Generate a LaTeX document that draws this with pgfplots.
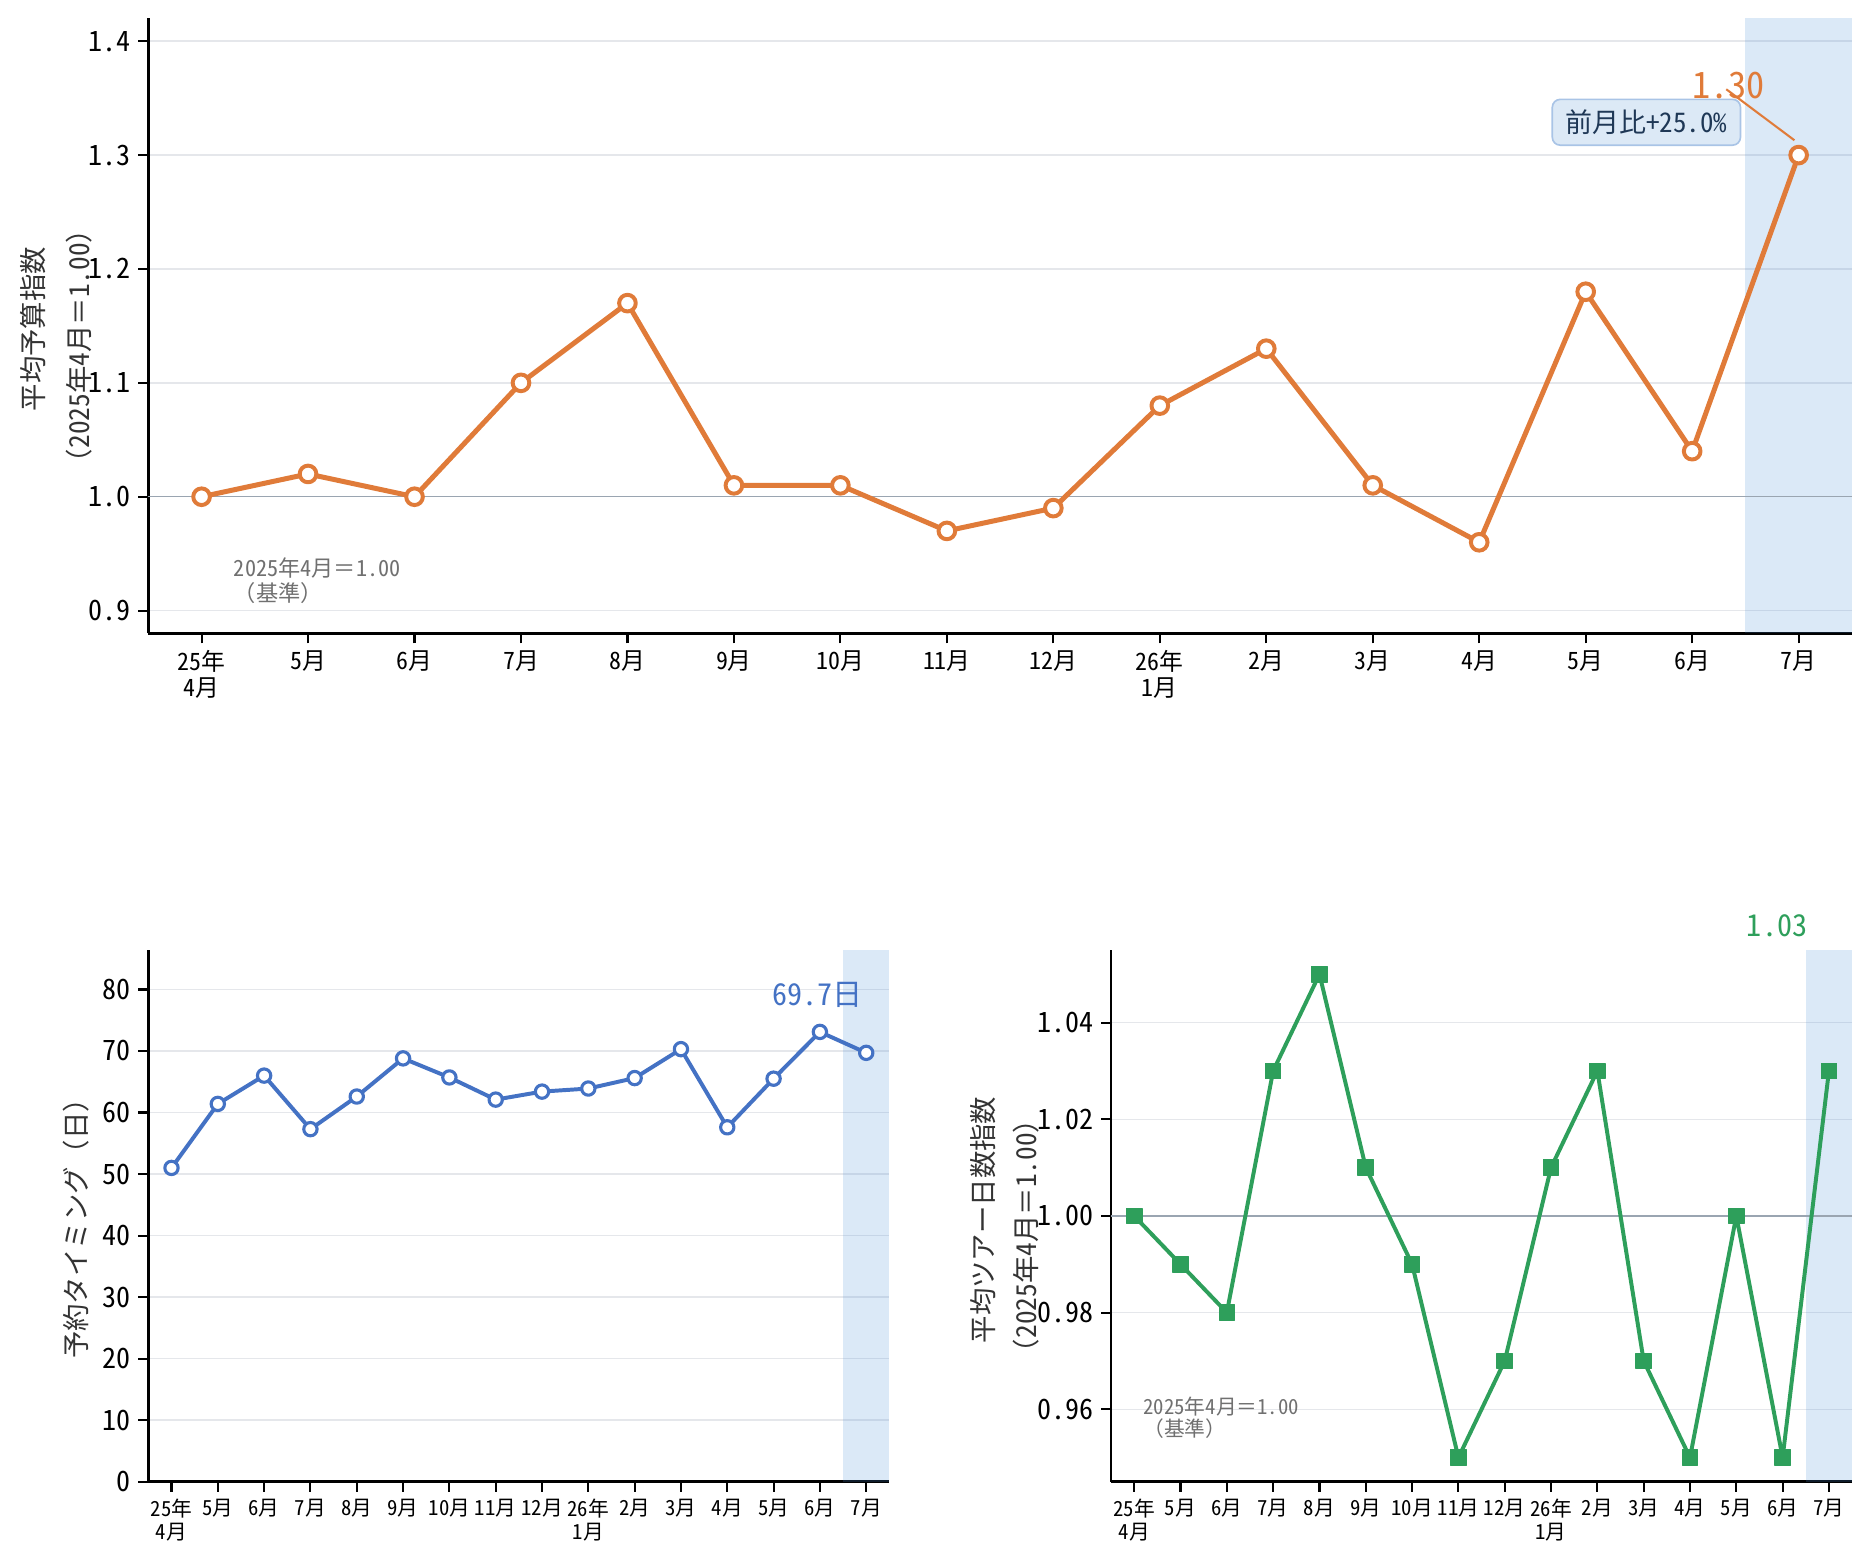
\documentclass[border=0pt]{standalone}
\usepackage{fontspec}
\setmainfont{Noto Sans Mono CJK JP}
\usepackage{pgfplots}
\pgfplotsset{compat=1.18}
\definecolor{orangec}{HTML}{E07B39}
\definecolor{bluec}{HTML}{4472C4}
\definecolor{greenc}{HTML}{2E9F5B}
\definecolor{shadec}{HTML}{4A90D9}
\definecolor{gridc}{HTML}{E5E7EB}
\definecolor{refc}{HTML}{9AA5B1}
\definecolor{graytext}{HTML}{707070}
\definecolor{labelc}{HTML}{333333}
\definecolor{boxfill}{HTML}{DCE9F6}
\definecolor{boxborder}{HTML}{A9C4E6}
\definecolor{navy}{HTML}{1F3856}
\pgfplotsset{
  base/.style={
    scale only axis, anchor=south west, clip=false,
    axis lines=left, axis line style={-, line width=1.3bp, black},
    tick align=outside, major tick length=4.8bp,
    tick style={black, line width=1bp},
    xmin=-0.5, xmax=15.5, xtick={0,...,15},
    ymajorgrids, grid style={color=gridc, line width=0.7bp},
    xticklabels={{25年\\4月},5月,6月,7月,8月,9月,10月,11月,12月,{26年\\1月},2月,3月,4月,5月,6月,7月},
    xticklabel style={align=center, text=black},
    yticklabel style={text=black},
  }
}
\begin{document}
\begin{tikzpicture}
\useasboundingbox (0,0) rectangle (898.56bp,750.24bp);
% ---------------- top axis
\begin{axis}[base, at={(71.2bp,446.2bp)}, width=817.7bp, height=295.2bp,
  ymin=0.88, ymax=1.42,
  ytick={0.9,1.0,1.1,1.2,1.3,1.4}, yticklabels={0.9,1.0,1.1,1.2,1.3,1.4},
  yticklabel style={font=\fontsize{13.5}{15}\selectfont},
  xticklabel style={font=\fontsize{11.5}{12.5}\selectfont},
]
\addplot[draw=none, fill=shadec, fill opacity=0.2, forget plot] coordinates {(14.5,0.88) (15.5,0.88) (15.5,1.42) (14.5,1.42)} -- cycle;
\addplot[refc, line width=0.6bp, forget plot] coordinates {(-0.5,1) (15.5,1)};
\addplot[orangec, line width=2.4bp, line join=round, mark=*, mark size=4.0bp,
  mark options={fill=white, draw=orangec, line width=1.9bp}] coordinates {
(0,1.00) (1,1.02) (2,1.00) (3,1.10) (4,1.17) (5,1.01) (6,1.01) (7,0.97)
(8,0.99) (9,1.08) (10,1.13) (11,1.01) (12,0.96) (13,1.18) (14,1.04) (15,1.30)};
\node[text=orangec, font=\fontsize{17.5}{20}\selectfont] at (axis cs:14.34,1.3613) {1.30};
\draw[orangec, line width=1bp] (axis cs:14.32,1.3578) -- (axis cs:14.96,1.3130);
\node[draw=boxborder, fill=boxfill, rounded corners=3.8bp, line width=0.8bp,
  inner xsep=6.3bp, inner ysep=5bp, text=navy, font=\fontsize{13}{15}\selectfont]
  at (axis cs:13.57,1.3288) {前月比+25.0\%};
\node[text=graytext, font=\fontsize{10.7}{12}\selectfont, anchor=west, align=left, inner sep=0pt]
  at (axis cs:0.30,0.9265) {2025年4月＝1.00\\（基準）};
\end{axis}
% ---------------- bottom left
\begin{axis}[base, at={(71.2bp,39.0bp)}, width=355.7bp, height=255.2bp,
  ymin=0, ymax=86.4,
  ytick={0,10,20,30,40,50,60,70,80}, yticklabels={0,10,20,30,40,50,60,70,80},
  yticklabel style={font=\fontsize{13.5}{15}\selectfont},
  xticklabel style={font=\fontsize{10}{11}\selectfont},
]
\addplot[draw=none, fill=shadec, fill opacity=0.2, forget plot] coordinates {(14.5,0) (15.5,0) (15.5,86.4) (14.5,86.4)} -- cycle;
\addplot[bluec, line width=1.9bp, line join=round, mark=*, mark size=3.2bp,
  mark options={fill=white, draw=bluec, line width=1.5bp}] coordinates {
(0,51.0) (1,61.4) (2,66.0) (3,57.3) (4,62.6) (5,68.8) (6,65.7) (7,62.1)
(8,63.4) (9,63.9) (10,65.6) (11,70.3) (12,57.6) (13,65.5) (14,73.1) (15,69.7)};
\node[text=bluec, font=\fontsize{14.5}{17}\selectfont] at (axis cs:13.95,79.07) {69.7日};
\end{axis}
% ---------------- bottom right
\begin{axis}[base, at={(533.3bp,39.0bp)}, width=355.7bp, height=255.2bp,
  ymin=0.945, ymax=1.055,
  ytick={0.96,0.98,1.00,1.02,1.04}, yticklabels={0.96,0.98,1.00,1.02,1.04},
  yticklabel style={font=\fontsize{13.5}{15}\selectfont},
  xticklabel style={font=\fontsize{10}{11}\selectfont},
]
\addplot[draw=none, fill=shadec, fill opacity=0.2, forget plot] coordinates {(14.5,0.945) (15.5,0.945) (15.5,1.055) (14.5,1.055)} -- cycle;
\addplot[refc, line width=0.6bp, forget plot] coordinates {(-0.5,1) (15.5,1)};
\addplot[greenc, line width=1.9bp, line join=round, mark=square*, mark size=3.7bp,
  mark options={fill=greenc, draw=greenc, line width=0.6bp}] coordinates {
(0,1.00) (1,0.99) (2,0.98) (3,1.03) (4,1.05) (5,1.01) (6,0.99) (7,0.95)
(8,0.97) (9,1.01) (10,1.03) (11,0.97) (12,0.95) (13,1.00) (14,0.95) (15,1.03)};
\node[text=greenc, font=\fontsize{14.5}{17}\selectfont] at (axis cs:13.88,1.0601) {1.03};
\node[text=graytext, font=\fontsize{10}{10.6}\selectfont, anchor=west, align=left, inner sep=0pt]
  at (axis cs:0.19,0.9583) {2025年4月＝1.00\\（基準）};
\end{axis}
% ---------------- y labels
\node[rotate=90, text=labelc, font=\fontsize{13.2}{15}\selectfont] at (15.84bp,592.3bp) {平均予算指数};
\node[rotate=90, text=labelc, font=\fontsize{13.2}{15}\selectfont] at (37.92bp,584.2bp) {（2025年4月＝1.00）};
\node[rotate=90, text=labelc, font=\fontsize{13.2}{15}\selectfont] at (36.5bp,163.7bp) {予約タイミング（日）};
\node[rotate=90, text=labelc, font=\fontsize{13.2}{15}\selectfont] at (472.1bp,164.6bp) {平均ツアー日数指数};
\node[rotate=90, text=labelc, font=\fontsize{13.2}{15}\selectfont] at (492.7bp,157.0bp) {（2025年4月＝1.00）};
\end{tikzpicture}
\end{document}
